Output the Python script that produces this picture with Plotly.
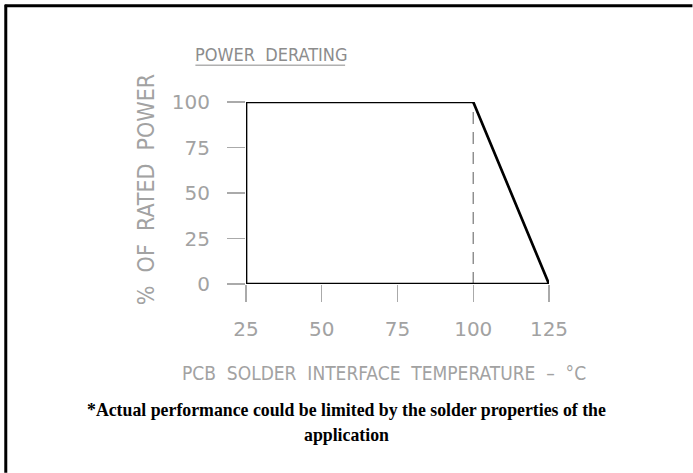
import plotly.graph_objects as go

# ---- data ----
curve_temp = [25, 25, 100, 125, 25]
curve_power = [0, 100, 100, 0, 0]
knee_temp = [100, 100]
knee_power = [0, 100]
x_ticks = [25, 50, 75, 100, 125]
y_ticks = [0, 25, 50, 75, 100]
title_text = "POWER  DERATING"
x_title = "PCB  SOLDER  INTERFACE  TEMPERATURE  –  °C"
y_title = "%  OF  RATED  POWER"
note_lines = ["*Actual performance could be limited by the solder properties of the", "application"]

W, H = 693, 473
L, R, T, B = 245.7, 549.3, 102.3, 284.3
GRAY = "#a2a2a2"
CAD_FONT = "DejaVu Sans Condensed, DejaVu Sans, sans-serif"
DIGIT_FONT = "DejaVu Sans, sans-serif"
SERIF = "Liberation Serif, Times New Roman, serif"

def px(x):
    return (x - L) / (R - L)

def py(y):
    return (B - y) / (B - T)

fig = go.Figure()
fig.add_trace(go.Scatter(x=knee_temp, y=knee_power, mode="lines",
                         line=dict(color="#8a8a8a", width=1.4, dash="12px,8px"),
                         cliponaxis=False, hoverinfo="skip", showlegend=False))
fig.add_trace(go.Scatter(x=curve_temp, y=curve_power, mode="lines",
                         line=dict(color="black", width=2.7),
                         cliponaxis=False, hoverinfo="skip", showlegend=False))

fig.update_layout(
    width=W, height=H,
    margin=dict(l=L, r=W - R, t=T, b=H - B, pad=0),
    paper_bgcolor="white", plot_bgcolor="white",
    showlegend=False,
    xaxis=dict(range=[25, 125], tickvals=x_ticks, ticktext=[str(v) for v in x_ticks],
               ticks="outside", ticklen=17, tickwidth=1.3, tickcolor="#aaaaaa",
               showgrid=False, zeroline=False, showline=False,
               tickfont=dict(family=DIGIT_FONT, size=20, color=GRAY),
               ticklabelstandoff=10, fixedrange=True),
    yaxis=dict(range=[0, 100], tickvals=y_ticks, ticktext=[str(v) for v in y_ticks],
               ticks="outside", ticklen=18, tickwidth=1.3, tickcolor="#aaaaaa",
               showgrid=False, zeroline=False, showline=False,
               tickfont=dict(family=DIGIT_FONT, size=20, color=GRAY),
               ticklabelstandoff=13, fixedrange=True),
)

annotations = [
    dict(text=title_text, x=px(271.5), y=py(55), xref="paper", yref="paper",
         showarrow=False, xanchor="center", yanchor="middle",
         font=dict(family=CAD_FONT, size=18, color="#8c8c8c")),
    dict(text=y_title, x=px(145), y=py(190), xref="paper", yref="paper",
         showarrow=False, xanchor="center", yanchor="middle", textangle=-90,
         font=dict(family=CAD_FONT, size=23, color=GRAY)),
    dict(text=x_title, x=px(383.5), y=py(373), xref="paper", yref="paper",
         showarrow=False, xanchor="center", yanchor="middle",
         font=dict(family=CAD_FONT, size=19, color=GRAY)),
    dict(text="<b>" + note_lines[0] + "</b>", x=px(346.5), y=py(410), xref="paper", yref="paper",
         showarrow=False, xanchor="center", yanchor="middle",
         font=dict(family=SERIF, size=17.8, color="black")),
    dict(text="<b>" + note_lines[1] + "</b>", x=px(346.5), y=py(435), xref="paper", yref="paper",
         showarrow=False, xanchor="center", yanchor="middle",
         font=dict(family=SERIF, size=17.8, color="black")),
]
fig.update_layout(annotations=annotations)

shapes = [
    # title underline
    dict(type="line", xref="paper", yref="paper", x0=px(195), x1=px(345), y0=py(65.5), y1=py(65.5),
         line=dict(color="#b0b0b0", width=1.5)),
    # outer frame (top and left edges)
    dict(type="line", xref="paper", yref="paper", x0=px(4), x1=px(W), y0=py(6), y1=py(6),
         line=dict(color="black", width=3)),
    dict(type="line", xref="paper", yref="paper", x0=px(5), x1=px(5), y0=py(5), y1=py(H),
         line=dict(color="black", width=3)),
]
fig.update_layout(shapes=shapes)

fig.write_html("out.html", config={"displayModeBar": False, "staticPlot": True},
               post_script="document.body.style.margin='0';document.body.style.overflow='hidden';")
